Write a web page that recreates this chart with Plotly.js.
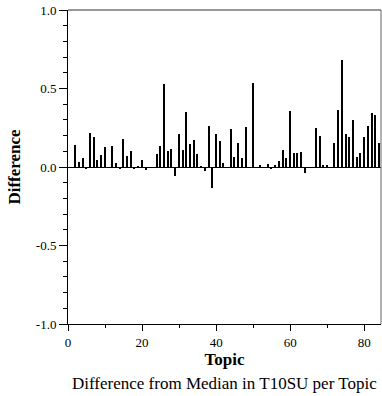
<!DOCTYPE html>
<html>
<head>
<meta charset="utf-8">
<script src="https://cdn.plot.ly/plotly-3.0.1.min.js"></script>
<style>
html,body{margin:0;padding:0;background:#fff;}
#chart{width:382px;height:396px;}
</style>
</head>
<body>
<div id="chart"></div>
<script>
const topics = Array.from({length: 84}, (_, i) => i + 1);
const differences = [
  0, 0.14, 0.034, 0.057, -0.01, 0.217, 0.19, 0.042, 0.079, 0.127,
  0, 0.134, 0.023, -0.01, 0.18, 0.07, 0.1, -0.01, 0.004, 0.042,
  -0.02, 0, 0, 0.086, 0.133, 0.527, 0.105, 0.117, -0.06, 0.212,
  0.108, 0.352, 0.146, 0.17, 0.085, 0.005, -0.028, 0.263, -0.134, 0.21,
  0.163, 0.025, 0, 0.244, 0.064, 0.155, 0.055, 0.253, -0.006, 0.535,
  0, 0.008, 0, 0.019, -0.01, 0.012, 0.04, 0.106, 0.055, 0.355,
  0.087, 0.087, 0.093, -0.036, -0.006, 0, 0.25, 0.197, 0.008, 0.012,
  0, 0.153, 0.365, 0.684, 0.208, 0.193, 0.301, 0.062, 0.091, 0.193,
  0.263, 0.346, 0.331, 0.153
];
const xTickVals = [0, 20, 40, 60, 80];
const yTickVals = [-1, -0.5, 0, 0.5, 1];
const yTickText = ['-1.0', '-0.5', '0.0', '0.5', '1.0'];
const xTitle = 'Topic';
const yTitle = 'Difference';
const caption = 'Difference from Median in T10SU per Topic';

const serif = '"Liberation Serif", "Times New Roman", serif';

const trace = {
  type: 'bar',
  x: topics,
  y: differences,
  width: 0.4,
  marker: {color: '#000', line: {width: 0}},
  hoverinfo: 'x+y'
};

const layout = {
  width: 382, height: 396,
  margin: {l: 68, r: 1, t: 10, b: 72},
  paper_bgcolor: '#fff', plot_bgcolor: '#fff',
  font: {family: serif, size: 13, color: '#000'},
  showlegend: false,
  bargap: 0,
  xaxis: {
    range: [0, 84.5],
    tickmode: 'array', tickvals: xTickVals,
    ticks: 'outside', ticklen: 6, tickcolor: '#000', tickwidth: 1,
    minor: {dtick: 10, ticks: 'outside', ticklen: 3, tickcolor: '#000', showgrid: false},
    showline: true, linecolor: '#000', linewidth: 1,
    showgrid: false, zeroline: false,
    tickfont: {family: serif, size: 13},
    title: {text: '<b>' + xTitle + '</b>', font: {family: serif, size: 17}, standoff: 4}
  },
  yaxis: {
    range: [-1, 1],
    tickmode: 'array', tickvals: yTickVals, ticktext: yTickText,
    ticks: 'outside', ticklen: 8, tickcolor: '#000', tickwidth: 1,
    minor: {dtick: 0.1, ticks: 'outside', ticklen: 4, tickcolor: '#000', showgrid: false},
    showline: true, linecolor: '#000', linewidth: 1,
    showgrid: false,
    zeroline: true, zerolinecolor: '#000', zerolinewidth: 1,
    tickfont: {family: serif, size: 13},
    title: {text: '<b>' + yTitle + '</b>', font: {family: serif, size: 17}, standoff: 10}
  },
  shapes: [
    {type: 'line', xref: 'paper', yref: 'paper', x0: 0, x1: 1, y0: 1, y1: 1, line: {color: '#333', width: 1}},
    {type: 'line', xref: 'paper', yref: 'paper', x0: 1, x1: 1, y0: 0, y1: 1, line: {color: '#666', width: 1}}
  ],
  annotations: [
    {text: caption, xref: 'paper', yref: 'paper', x: 0.5, y: -0.19, xanchor: 'center', yanchor: 'middle',
     showarrow: false, font: {family: serif, size: 17, color: '#000'}}
  ]
};

Plotly.newPlot('chart', [trace], layout, {displayModeBar: false, staticPlot: false});
</script>
</body>
</html>
